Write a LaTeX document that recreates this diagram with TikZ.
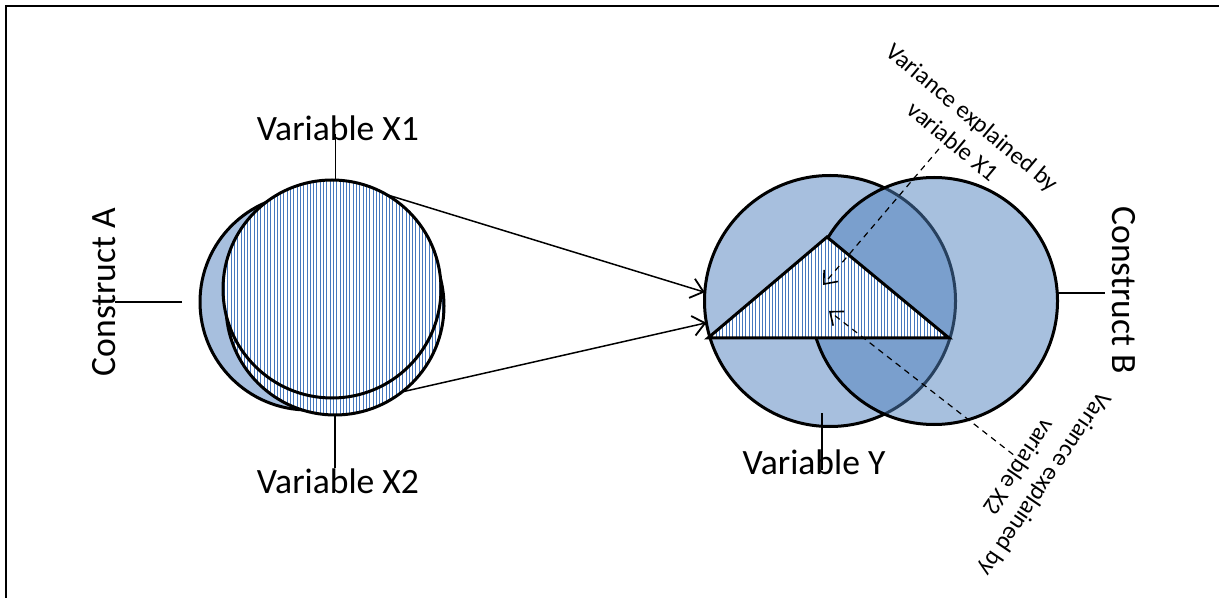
\documentclass[tikz,border=0pt]{standalone}
\usepackage{fontspec}
\setmainfont{Carlito}
\usetikzlibrary{arrows.meta,patterns.meta}
\definecolor{lightblue}{RGB}{167,191,222}
\definecolor{midblue}{RGB}{79,129,189}
\definecolor{hatchblue}{RGB}{70,120,190}
\tikzset{
  venn/.style={circle, draw=black, line width=1.5pt, inner sep=0pt, outer sep=0pt},
  solidset/.style={venn, fill=lightblue},
  glassset/.style={venn, fill=midblue, fill opacity=0.5},
  hatchset/.style={venn, preaction={fill=white}, pattern={Lines[angle=90,distance=1.65pt,line width=0.32pt]}, pattern color=hatchblue},
  hatchtri/.style={draw=black, line width=1.5pt, line join=miter, preaction={fill=white}, pattern={Lines[angle=90,distance=1.65pt,line width=0.32pt]}, pattern color=hatchblue},
  bigtext/.style={font=\fontsize{17.8}{21}\selectfont, inner sep=0pt},
  smalltext/.style={font=\fontsize{12.2}{15.5}\selectfont, align=center},
  leader/.style={line width=0.6pt},
  flow/.style={line width=0.75pt, -{Straight Barb[length=6pt,width=10pt,line width=0.9pt]}},
  dashflow/.style={line width=0.6pt, dash pattern=on 3pt off 2.5pt, -{Straight Barb[length=5.5pt,width=9pt,line width=0.8pt]}},
}
\begin{document}
\begin{tikzpicture}[x=0.5pt,y=-0.5pt]
\useasboundingbox (0,0) rectangle (1219,598);
% frame (only top and left edges are inside the picture)
\draw[line width=1pt] (6,598) -- (6,6) -- (1219,6);

% left group
\node[solidset, minimum size=108pt] (A) at (308,302) {};
\node[hatchset, minimum size=109pt] (X2) at (335,306) {};
\node[hatchset, minimum size=109pt] (X1) at (332,289) {};

% right group
\node[solidset, minimum size=125.5pt] (Y) at (830,301) {};
\node[glassset, minimum size=123.5pt] (B) at (934,301) {};
\draw[hatchtri] (708,338) -- (827,237) -- (949,338) -- cycle;

% labels
\node[bigtext, anchor=base] (lX1) at (338,141) {Variable X1};
\node[bigtext, anchor=base] (lX2) at (338,493) {Variable X2};
\node[bigtext, anchor=base] (lY) at (814,474) {Variable Y};
\node[bigtext, anchor=base, rotate=90] (lA) at (115,292) {Construct A};
\node[bigtext, anchor=base, rotate=-90] (lB) at (1112,290) {Construct B};
\node[smalltext, rotate=-40] (lV1) at (963,129) {Variance explained by\\variable X1};
\node[smalltext, rotate=236] (lV2) at (1033,476) {Variance explained by\\variable X2};

% leader lines
\draw[leader] (X1.88) -- ([yshift=-2.5pt]X1.88 |- lX1.center);
\draw[leader] (X2.south) -- (X2.south |- lX2.north);
\coordinate (cY) at (822,413);
\draw[leader] (cY) -- ([yshift=2pt]cY |- lY.base);
\draw[leader] ([xshift=-9pt]A.west) -- (A.west -| lA.base);
\coordinate (bEnd) at ([xshift=-3.5pt]lB.base);
\draw[leader] ([yshift=4pt]B.east) -- ([yshift=4pt]B.east -| bEnd);

% flow arrows
\draw[flow] (X1.60) -- (Y.176);
\draw[flow] (X2.-52) -- (Y.190);

% dashed arrows
\coordinate (tX1) at (823,285);
\coordinate (tX2) at (829,311);
\draw[dashflow] ([shift={(-2pt,2pt)}]lV1.south) -- (tX1);
\draw[dashflow] ([shift={(3pt,2pt)}]lV2.south) -- (tX2);
\end{tikzpicture}
\end{document}
